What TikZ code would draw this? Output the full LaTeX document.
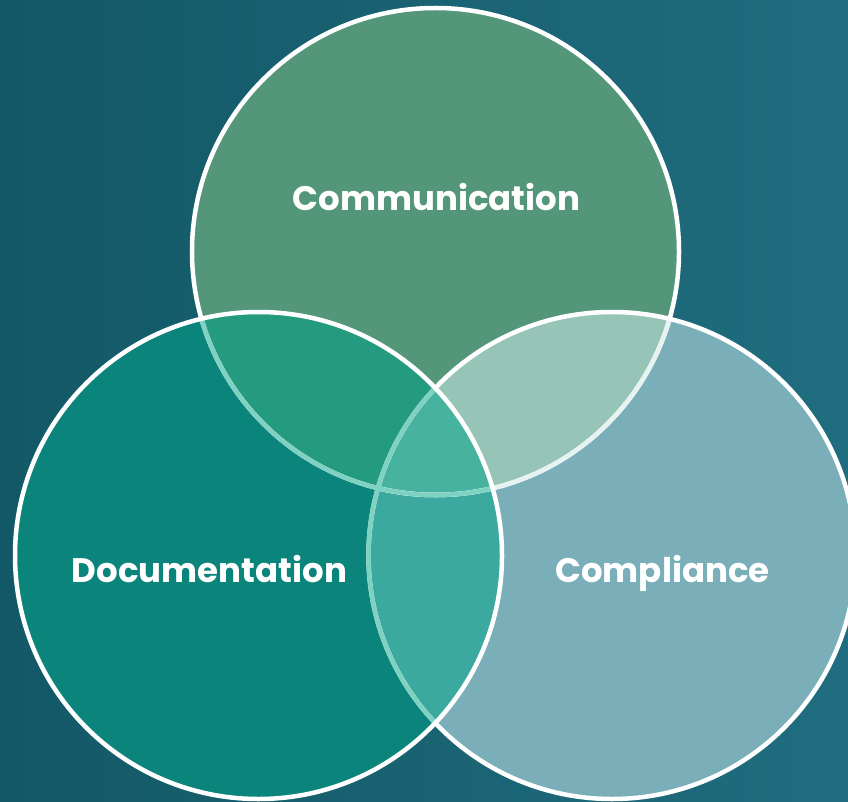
\documentclass[tikz,border=0pt]{standalone}
\usepackage{fontspec}
\setmainfont{Poppins}
\definecolor{bgL}{HTML}{135866}
\definecolor{bgR}{HTML}{1F6D7F}
\definecolor{cT}{HTML}{54967A}
\definecolor{cL}{HTML}{0B857B}
\definecolor{cR}{HTML}{7AAEB8}
\definecolor{cTL}{HTML}{249B7E}
\definecolor{cTR}{HTML}{96C4B6}
\definecolor{cLR}{HTML}{3BA9A0}
\definecolor{cAll}{HTML}{47B39F}
\definecolor{paleline}{HTML}{7FD2C2}
\definecolor{lightline}{HTML}{E6F3F1}
\tikzset{
  rim/.style={line width=4.5pt},
  label/.style={text=white, font=\bfseries\fontsize{34}{40}\selectfont, anchor=base, inner sep=0pt}
}
\begin{document}
\begin{tikzpicture}
\useasboundingbox (0pt,0pt) rectangle (848pt,-802pt);
\shade[left color=bgL, right color=bgR] (0pt,0pt) rectangle (848pt,-802pt);
\coordinate (ct) at (435.5pt,-251.5pt);
\coordinate (cl) at (258.5pt,-555.5pt);
\coordinate (cr) at (612pt,-555.5pt);
\def\rr{243.5pt}
% base fills
\fill[cT] (ct) circle[radius=\rr];
\fill[cR] (cr) circle[radius=\rr];
\fill[cL] (cl) circle[radius=\rr];
% overlaps
\begin{scope}
  \clip (ct) circle[radius=\rr];
  \fill[cTL] (cl) circle[radius=\rr];
  \fill[cTR] (cr) circle[radius=\rr];
\end{scope}
\begin{scope}
  \clip (cl) circle[radius=\rr];
  \fill[cLR] (cr) circle[radius=\rr];
\end{scope}
\begin{scope}
  \clip (ct) circle[radius=\rr];
  \clip (cl) circle[radius=\rr];
  \fill[cAll] (cr) circle[radius=\rr];
\end{scope}
% borders
\draw[rim, white] (ct) circle[radius=\rr];
\begin{scope}
  \clip (cr) circle[radius=\rr];
  \draw[rim, lightline] (ct) circle[radius=\rr];
\end{scope}
\draw[rim, white] (cr) circle[radius=\rr];
\begin{scope}
  \clip (cl) circle[radius=\rr];
  \draw[rim, paleline] (ct) circle[radius=\rr];
  \draw[rim, paleline] (cr) circle[radius=\rr];
\end{scope}
\draw[rim, white] (cl) circle[radius=\rr];
% labels
\node[label] (tcomm) at (436.5pt,-211pt) {Communication};
\node[label] (tdoc) at (209.5pt,-582pt) {Documentation};
\node[label] (tcomp) at (662.5pt,-582pt) {Compliance};
\end{tikzpicture}
\end{document}
